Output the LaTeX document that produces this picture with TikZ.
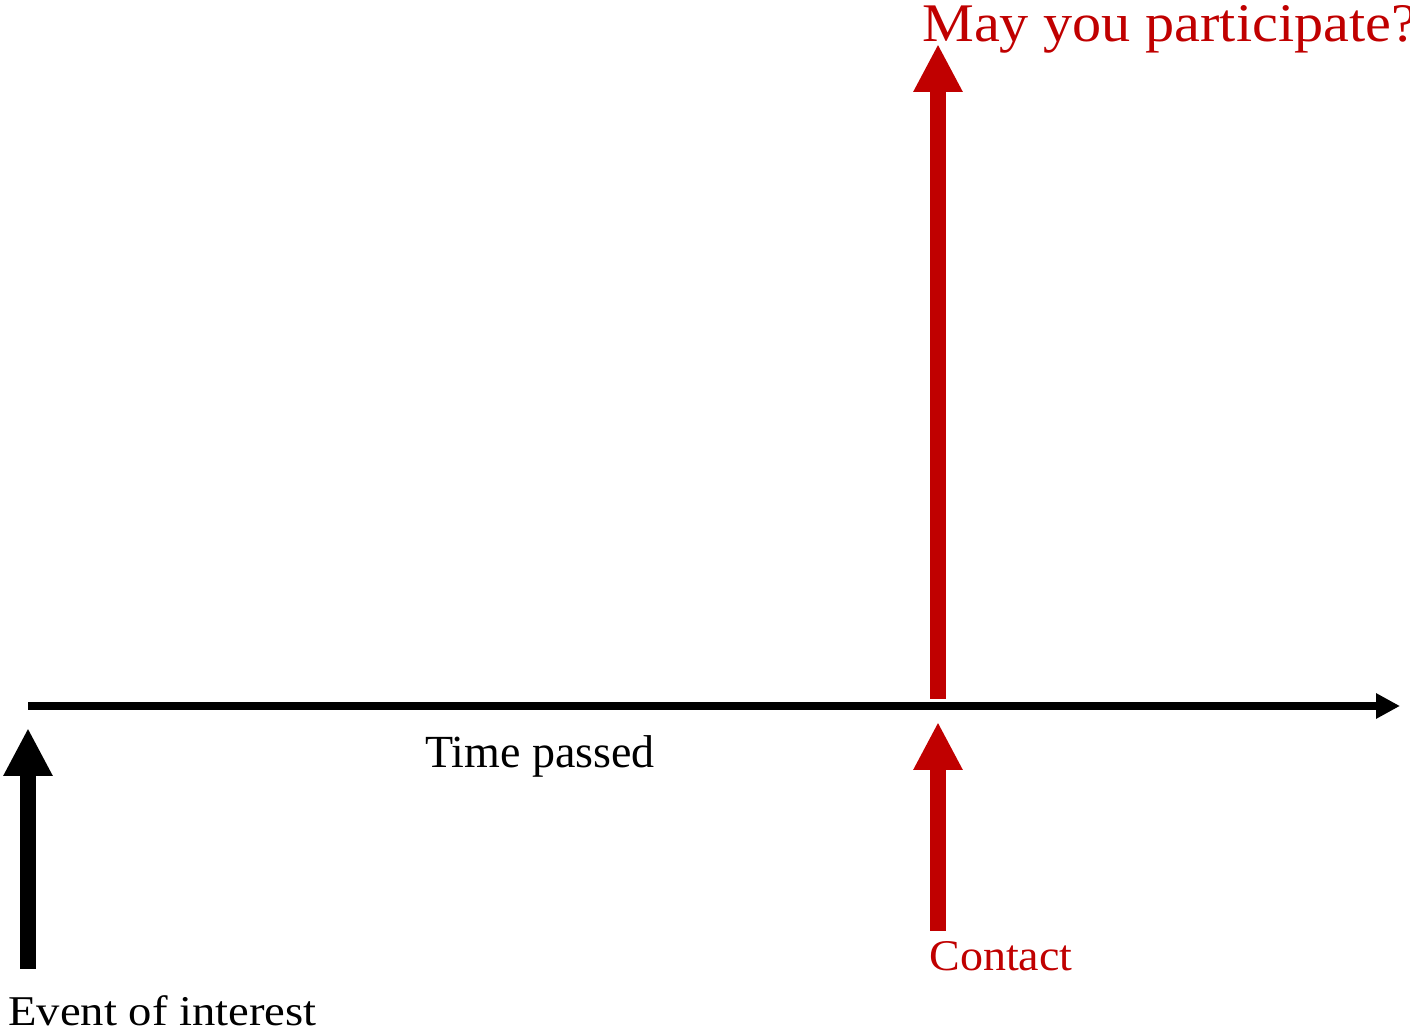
\documentclass[tikz,border=0pt]{standalone}
\usepackage{fontspec}
\setmainfont{Liberation Serif}
\usetikzlibrary{arrows.meta}
\definecolor{accent}{RGB}{192,0,0}
\begin{document}
\begin{tikzpicture}[x=0.5pt,y=-0.5pt,
  bigarrow/.style={line width=8pt,-{Triangle[length=24pt,width=23pt]}},
  axisarrow/.style={line width=4pt,-{Triangle[length=12pt,width=12pt]}},
  lbl/.style={inner sep=0pt,anchor=base west}]
\clip (0,0) rectangle (1410,1031);

% time axis
\coordinate (axstart) at (28,706);
\coordinate (axend) at (1400,706);
\draw[axisarrow] (axstart) -- (axend);
\node[lbl,font=\fontsize{23}{27}\selectfont] (time) at (425,768) {Time passed};

% event of interest
\coordinate (evfoot) at (28,969);
\coordinate (evtip) at (28,728);
\draw[bigarrow] (evfoot) -- (evtip);
\node[lbl,font=\fontsize{21.2}{25}\selectfont] (event) at (8,1026) {\scalebox{1.1}[1]{Event of interest}};

% contact
\coordinate (cofoot) at (938,931);
\coordinate (cotip) at (938,722);
\draw[bigarrow,accent] (cofoot) -- (cotip);
\node[lbl,font=\fontsize{21.9}{26}\selectfont,text=accent] (contact) at (929,971) {\scalebox{1.05}[1]{Contact}};

% question raised at contact
\coordinate (qfoot) at (938,699);
\coordinate (qtip) at (938,44);
\draw[bigarrow,accent] (qfoot) -- (qtip);
\node[lbl,font=\fontsize{27.2}{32}\selectfont,text=accent] (question) at (922,42) {\scalebox{1.07}[1]{May you participate?}};
\end{tikzpicture}
\end{document}
